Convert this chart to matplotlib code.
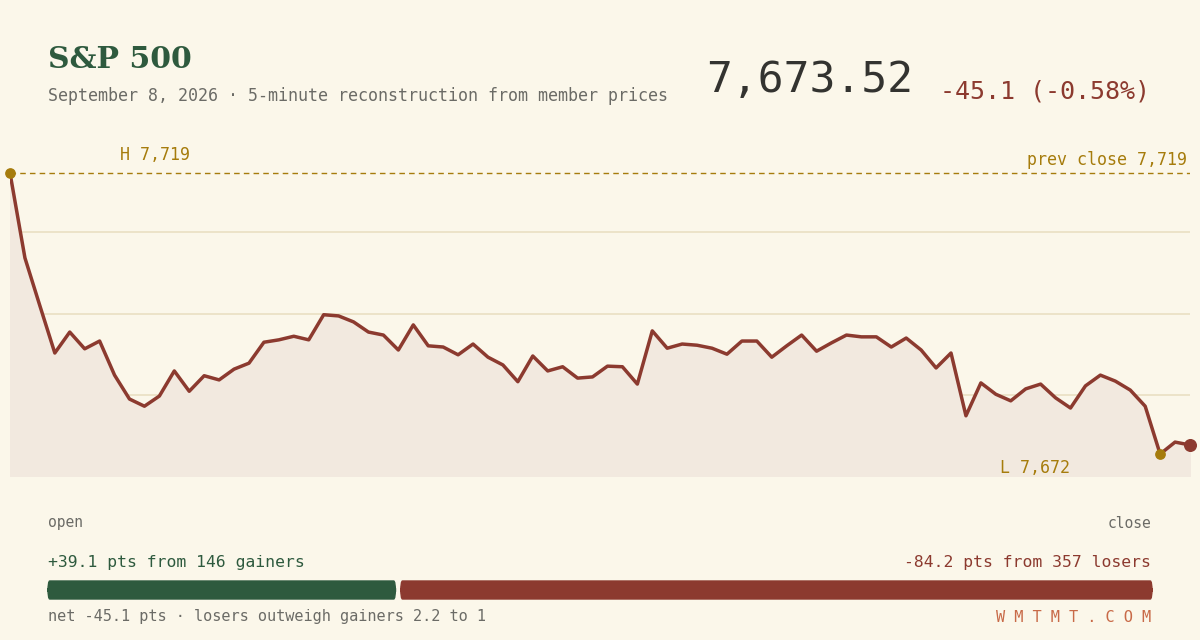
import matplotlib
matplotlib.use("Agg")
import matplotlib.pyplot as plt
from matplotlib.patches import FancyBboxPatch

prices = [7719.0, 7704.8, 7696.8, 7688.9, 7692.4, 7689.6, 7690.9, 7685.2, 7681.2, 7680.0,
          7681.7, 7685.9, 7682.5, 7685.1, 7684.4, 7686.2, 7687.2, 7690.7, 7691.1, 7691.7,
          7691.1, 7695.3, 7695.1, 7694.1, 7692.4, 7691.9, 7689.4, 7693.6, 7690.1, 7689.9,
          7688.6, 7690.4, 7688.2, 7686.9, 7684.1, 7688.4, 7685.9, 7686.6, 7684.7, 7684.9,
          7686.7, 7686.6, 7683.7, 7692.6, 7689.7, 7690.4, 7690.2, 7689.7, 7688.7, 7690.9,
          7690.9, 7688.2, 7690.1, 7691.9, 7689.2, 7690.6, 7691.9, 7691.6, 7691.6, 7689.9,
          7691.4, 7689.4, 7686.4, 7688.9, 7678.4, 7683.9, 7682.0, 7680.9, 7682.9, 7683.7,
          7681.4, 7679.7, 7683.4, 7685.2, 7684.2, 7682.7, 7680.0, 7672.0, 7674.0, 7673.52]
prev_close = 7719
grid_levels = [7709.1, 7695.4, 7681.9]
gain_pts, gainers = 39.1, 146
loss_pts, losers = 84.2, 357

BG = "#fbf7ea"
GREEN = "#2e5a3e"
RED = "#8c3a2f"
GOLD = "#a67c0c"
GREY = "#6b6b66"
MONO = "DejaVu Sans Mono"

fig = plt.figure(figsize=(12, 6.4), dpi=100, facecolor=BG)
W, H = 1200, 640

def px(x0, y0, x1, y1):
    return [x0 / W, 1 - y1 / H, (x1 - x0) / W, (y1 - y0) / H]

ax = fig.add_axes(px(10, 140, 1190, 476))
ax.set_facecolor(BG)
x = list(range(len(prices)))
ybot = 7719 - (476 - 173) / 5.98
ytop = 7719 + (173 - 140) / 5.98
for g in grid_levels:
    ax.axhline(g, color="#e9dfc3", lw=1.2, zorder=1)
ax.axhline(prev_close, color=GOLD, lw=1, ls=(0, (4, 3)), zorder=2)
ax.fill_between(x, prices, ybot, color="#f2e9df", zorder=1.5)
ax.plot(x, prices, color=RED, lw=2.5, zorder=3)
hi = prices.index(max(prices))
lo = prices.index(min(prices))
ax.scatter([hi, lo], [prices[hi], prices[lo]], s=45, color=GOLD, zorder=4, clip_on=False)
ax.scatter([x[-1]], [prices[-1]], s=70, color=RED, zorder=4, clip_on=False)
ax.set_xlim(0, len(prices) - 1)
ax.set_ylim(ybot, ytop)
ax.axis("off")

net = gain_pts - loss_pts
fig.text(48 / W, 1 - 60 / H, "S&P 500", family="DejaVu Serif", weight="bold",
         size=21.5, color=GREEN, va="center")
fig.text(48 / W, 1 - 96 / H, "September 8, 2026 · 5-minute reconstruction from member prices",
         family=MONO, size=12, color=GREY, va="center")
fig.text(913 / W, 1 - 80 / H, f"{prices[-1]:,.2f}", family=MONO, size=31,
         color="#333330", va="center", ha="right")
fig.text(1150 / W, 1 - 91 / H, f"{net:.1f} ({net / prev_close * 100:.2f}%)", family=MONO,
         size=18, color=RED, va="center", ha="right")
fig.text(120 / W, 1 - 155 / H, f"H {max(prices):,.0f}", family=MONO, size=12, color=GOLD, va="center")
fig.text(1187 / W, 1 - 160 / H, f"prev close {prev_close:,}", family=MONO, size=12,
         color=GOLD, va="center", ha="right")
fig.text(1000 / W, 1 - 468 / H, f"L {min(prices):,.0f}", family=MONO, size=12, color=GOLD, va="center")
fig.text(48 / W, 1 - 523 / H, "open", family=MONO, size=10.5, color=GREY, va="center")
fig.text(1151 / W, 1 - 523 / H, "close", family=MONO, size=10.5, color=GREY, va="center", ha="right")
fig.text(48 / W, 1 - 562 / H, f"+{gain_pts} pts from {gainers} gainers", family=MONO,
         size=11.8, color=GREEN, va="center")
fig.text(1151 / W, 1 - 562 / H, f"-{loss_pts} pts from {losers} losers", family=MONO,
         size=11.8, color=RED, va="center", ha="right")

bx = fig.add_axes(px(48, 581, 1152, 599))
bx.axis("off")
bx.set_xlim(0, gain_pts + loss_pts)
bx.set_ylim(0, 1)
bx.add_patch(FancyBboxPatch((0, 0), gain_pts - 0.3, 1, boxstyle="round,pad=0,rounding_size=0.2",
                            color=GREEN, mutation_aspect=3, clip_on=False))
bx.add_patch(FancyBboxPatch((gain_pts + 0.3, 0), loss_pts - 0.3, 1,
                            boxstyle="round,pad=0,rounding_size=0.2",
                            color=RED, mutation_aspect=3, clip_on=False))

fig.text(48 / W, 1 - 617 / H,
         f"net {net:.1f} pts · losers outweigh gainers {loss_pts / gain_pts:.1f} to 1",
         family=MONO, size=11, color=GREY, va="center")
fig.text(1151 / W, 1 - 617 / H, " ".join("WMTMT.COM"), family=MONO, size=11, color="#c86a48",
         va="center", ha="right")

fig.savefig("out.png", dpi=100, facecolor=BG)
